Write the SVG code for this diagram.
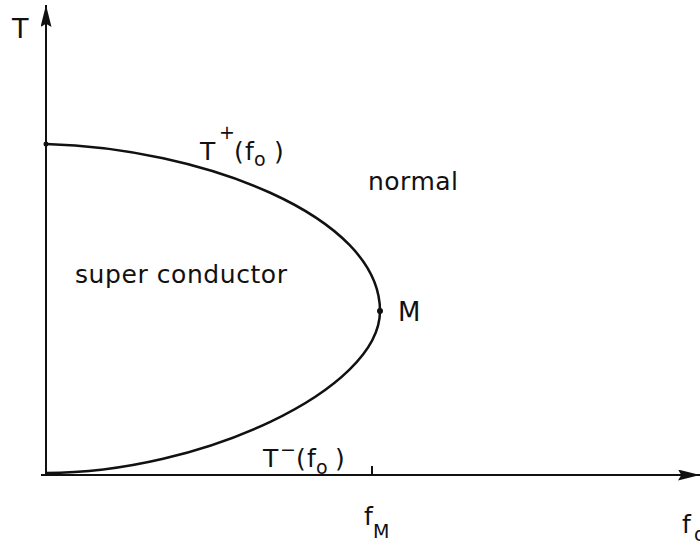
<svg xmlns="http://www.w3.org/2000/svg" width="700" height="545" viewBox="0 0 700 545">
<defs>
<style>
.ax{stroke:#111;stroke-width:2;fill:none}
.cv{stroke:#111;stroke-width:2.5;fill:none}
text{font-family:"DejaVu Sans","Liberation Sans",sans-serif;fill:#111}
.lbl{font-size:25px}
.sub{font-size:19px}
</style>
<marker id="ahb" viewBox="0 0 20 10" refX="20" refY="5" markerWidth="22" markerHeight="11" markerUnits="userSpaceOnUse" orient="auto">
<path d="M0,0 L20,5 L0,10 L3,5 z" fill="#111"/>
</marker>
</defs>
<rect width="700" height="545" fill="#fff"/>
<g id="connectors">
<line class="ax" x1="46" y1="476" x2="46" y2="5" marker-end="url(#ahb)"/>
<line class="ax" x1="41" y1="475" x2="700" y2="475" marker-end="url(#ahb)"/>
<line class="ax" x1="372" y1="466" x2="372" y2="475"/>
</g>
<g id="boundary">
<path class="cv" d="M46,144 C200,148 380,215 380,311 C380,390 200,473 46,473"/>
<circle cx="46" cy="144" r="2.5" fill="#111"/>
<circle cx="380" cy="311" r="3" fill="#111"/>
</g>
<g id="axis-T"><text x="12" y="38" font-size="27">T</text></g>
<g id="axis-f"><text class="lbl" x="682" y="533">f</text><text class="sub" x="694" y="541">o</text></g>
<g id="label-Tplus">
<text class="lbl" x="200" y="160">T</text>
<text class="sub" x="219" y="139">+</text>
<text class="lbl" x="234" y="160">(</text>
<text class="lbl" x="245" y="160">f</text>
<text class="sub" x="254" y="166">o</text>
<text class="lbl" x="274" y="160">)</text>
</g>
<g id="label-Tminus">
<text class="lbl" x="263" y="467">T</text>
<text class="sub" x="280" y="456">−</text>
<text class="lbl" x="296" y="467">(</text>
<text class="lbl" x="307" y="467">f</text>
<text class="sub" x="316" y="474">o</text>
<text class="lbl" x="335" y="467">)</text>
</g>
<g id="label-normal"><text class="lbl" x="368" y="190" textLength="90">normal</text></g>
<g id="label-super"><text class="lbl" x="75" y="283" textLength="212">super conductor</text></g>
<g id="label-M"><text x="398" y="321" font-size="26">M</text></g>
<g id="label-fM"><text class="lbl" x="364" y="525">f</text><text class="sub" x="373" y="538">M</text></g>
</svg>
